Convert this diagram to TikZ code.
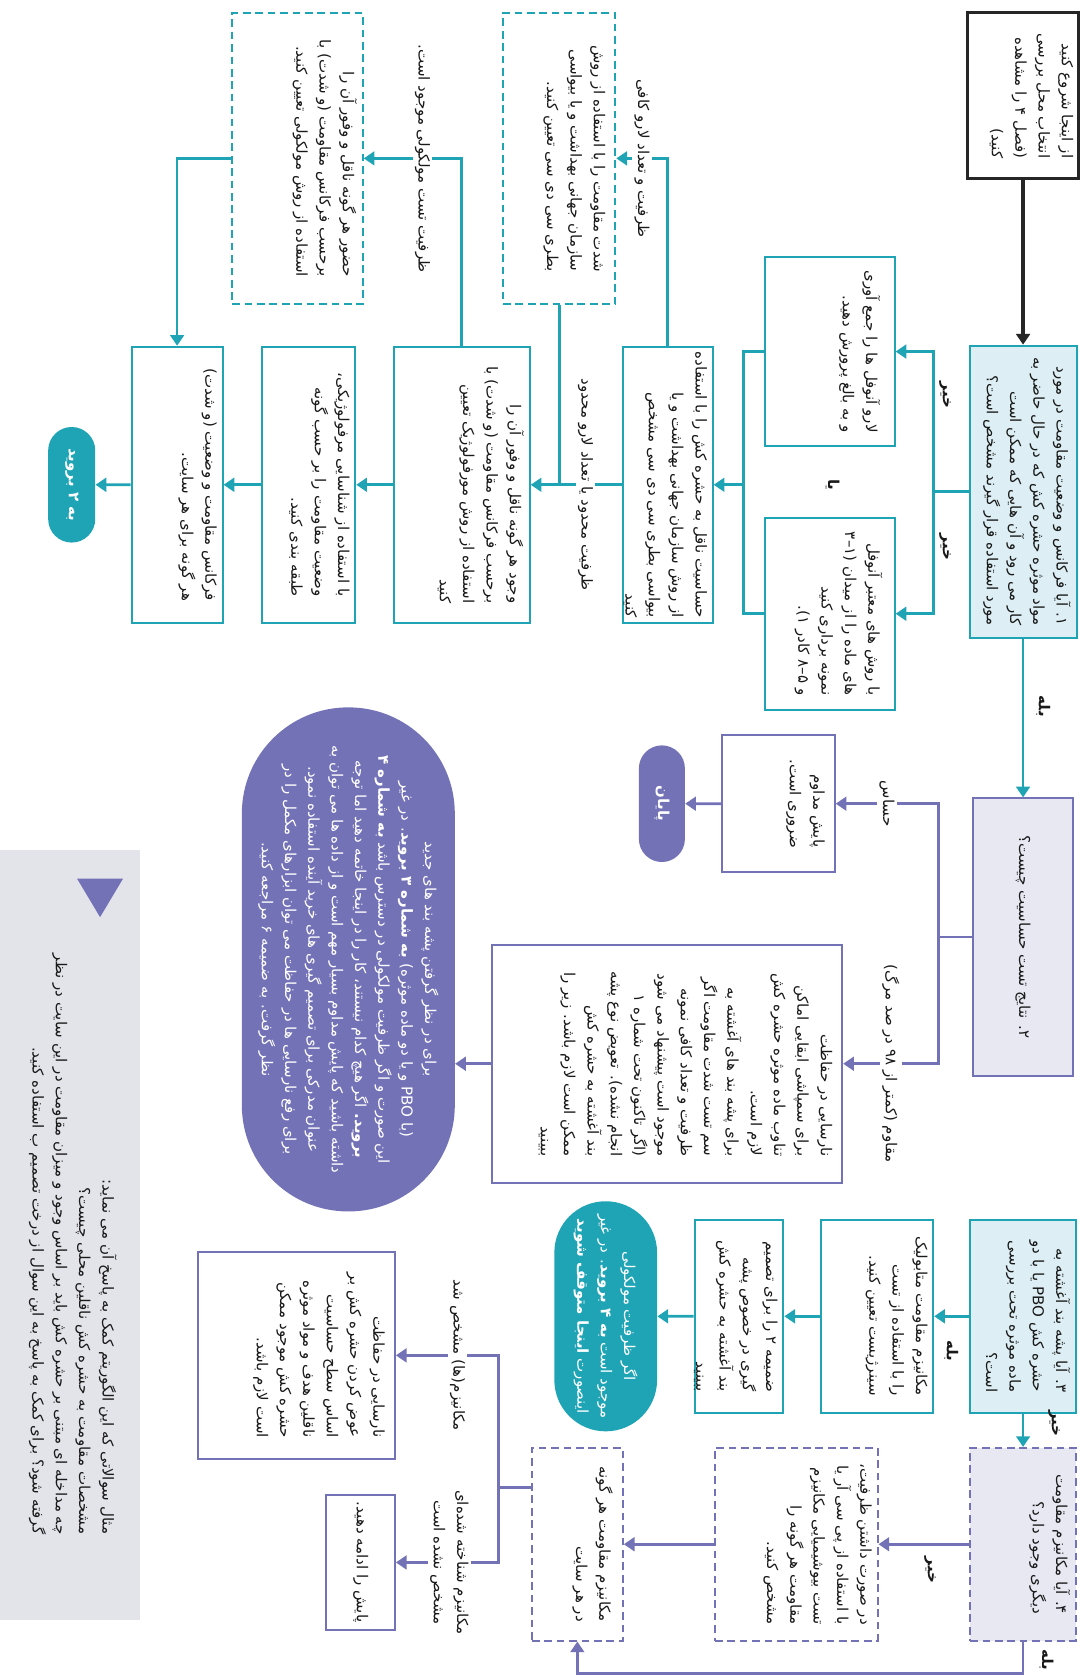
\documentclass[tikz,border=0pt]{standalone}
\usepackage{fontspec}
\newfontfamily\farsi[Script=Arabic]{DejaVu Sans}
\TeXXeTstate=1
\usetikzlibrary{arrows.meta,shapes.misc}
\definecolor{tealc}{HTML}{1FA4B6}
\definecolor{tealfill}{HTML}{DDEFF4}
\definecolor{purp}{HTML}{7472B7}
\definecolor{purpfill}{HTML}{E8E8F3}
\definecolor{lggray}{HTML}{E3E4E9}
\newcommand{\rl}[1]{\beginR#1\endR}
\newcommand{\fsz}{\fontsize{10}{15.5}\selectfont}

\begin{document}
\begin{tikzpicture}[x=0.25mm, y=-0.25mm, >={Triangle[length=2.5mm,width=3.2mm]},
    every node/.style={font=\farsi\fsz},
    boxbase/.style={draw, line width=1.3pt, fill=white, inner sep=0pt},
    tealbox/.style={boxbase, draw=tealc},
    purpbox/.style={boxbase, draw=purp},
    dashbox/.style={dash pattern=on 1.8mm off 1.1mm},
    txt/.style={rotate=-90, anchor=north, align=right, inner sep=1.5mm, text=black!90},
    pill/.style={rotate=-90, rounded rectangle, text=white, align=center, inner sep=1mm},
    lbl/.style={rotate=-90, fill=white, text=black!90, inner sep=1.5pt, align=center},
    yn/.style={rotate=-90, text=black!90, font=\farsi\fsz\bfseries},
    tline/.style={tealc, line width=1.8pt},
    pline/.style={purp, line width=1.8pt}]
\useasboundingbox (0,0) rectangle (1017,1568);

% first column
\node[boxbase, draw=black!85, line width=1.8pt, minimum width=26mm, minimum height=38.75mm] (st) at (956,89.5) {};
\node[txt] (stt) at (st.east) {\rl{از اینجا شروع کنید}\\\rl{انتخاب محل بررسی}\\\rl{(فصل ۴ را مشاهده}\\\rl{کنید)}};
\node[tealbox, fill=tealfill, minimum width=25mm, minimum height=68.25mm] (q1) at (956,459.5) {};
\node[txt] (q1t) at (q1.east) {\rl{۱. آیا فرکانس و وضعیت مقاومت در مورد}\\\rl{مواد موثره حشره کش که در حال حاضر به}\\\rl{کار می رود و آن هایی که ممکن است}\\\rl{مورد استفاده قرار گیرند مشخص است؟}};
\node[tealbox, minimum width=30.25mm, minimum height=44.25mm] (a1) at (775.5,328.5) {};
\node[txt, inner sep=3.5mm] (a1t) at (a1.east) {\rl{لارو آنوفل ها را جمع آوری}\\\rl{و به بالغ پرورش دهید.}};
\node[tealbox, minimum width=30.25mm, minimum height=44.75mm] (a2) at (775.5,573.5) {};
\node[txt, inner sep=3mm] (a2t) at (a2.east) {\rl{با روش های معتبر آنوفل}\\\rl{های ماده را از میدان (۱–۳}\\\rl{نمونه برداری کنید}\\\rl{و ۵–۸ کادر ۱).}};
\node[tealbox, minimum width=21mm, minimum height=64.5mm] (sens) at (624,453) {};
\node[txt] (senst) at (sens.east) {\rl{حساسیت ناقل به حشره کش را با استفاده}\\\rl{از روش سازمان جهانی بهداشت و یا}\\\rl{بیواسی بطری سی دی سی مشخص}\\\rl{کنید}};
\node[tealbox, dashbox, minimum width=26.25mm, minimum height=68mm] (d1) at (522.5,148) {};
\node[txt, inner sep=2.5mm] (d1t) at (d1.east) {\rl{شدت مقاومت را با استفاده از روش}\\\rl{سازمان جهانی بهداشت و یا بیواسی}\\\rl{بطری سی دی سی تعیین کنید.}};
\node[tealbox, minimum width=31.75mm, minimum height=64.5mm] (wj) at (431.5,453) {};
\node[txt] (wjt) at (wj.east) {\rl{وجود هر گونه ناقل و وفور آن را}\\\rl{برحسب فرکانس مقاومت (و شدت) با}\\\rl{استفاده از روش مورفولوژیک تعیین}\\\rl{کنید}};
\node[tealbox, dashbox, minimum width=30.5mm, minimum height=68mm] (d2) at (278,148) {};
\node[txt] (d2t) at (d2.east) {\rl{حضور هر گونه ناقل و وفور آن را}\\\rl{برحسب فرکانس مقاومت (و شدت) با}\\\rl{استفاده از روش مولکولی تعیین کنید.}};
\node[tealbox, minimum width=21.75mm, minimum height=64.5mm] (mo) at (288.5,453) {};
\node[txt] (mot) at (mo.east) {\rl{با استفاده از شناسایی مرفولوژیکی،}\\\rl{وضعیت مقاومت را بر حسب گونه}\\\rl{طبقه بندی کنید.}};
\node[tealbox, minimum width=21.25mm, minimum height=64.5mm] (fr) at (165.5,453) {};
\node[txt] (frt) at (fr.east) {\rl{فرکانس مقاومت و وضعیت (و شدت)}\\\rl{هر گونه برای هر سایت.}};
\node[pill, fill=tealc, minimum width=29mm, minimum height=11mm, font=\farsi\fsz\bfseries] (go2) at (67,453) {\rl{به ۲ بروید}};

\draw[line width=2.2pt, black!85, ->] (st) -- (q1);
\coordinate (b1) at (872,459.5);
\draw[tline] (q1) -- (b1);
\draw[tline,->] (b1) |- (a1);
\draw[tline,->] (b1) |- (a2);
\coordinate (b2) at (695,453);
\draw[tline] (a1) -| (b2);
\draw[tline] (a2) -| (b2);
\draw[tline,->] (b2) -- (sens);
\draw[tline,->] (sens.north) |- node[lbl,pos=.75]{\rl{ظرفیت و تعداد لارو کافی}} (d1);
\draw[tline,->] (sens) -- node[lbl,pos=.4]{\rl{ظرفیت محدود یا تعداد لارو محدود}} (wj);
\draw[tline] (d1) -- (d1 |- wj);
\draw[tline,->] (wj.north) |- node[lbl,pos=.7]{\rl{ظرفیت تست مولکولی موجود است.}} (d2);
\draw[tline,->] (d2) -| (fr);
\draw[tline,->] (wj) -- (mo);
\draw[tline,->] (mo) -- (fr);
\draw[tline,->] (fr) -- (go2);
\node[yn] (y1) at (883,369) {\rl{خیر}};
\node[yn] (y2) at (883,511) {\rl{خیر}};
\node[yn] (ya) at (778,453) {\rl{یا}};

% second question
\node[purpbox, fill=purpfill, minimum width=23.25mm, minimum height=64.75mm] (q2) at (956,875.5) {};
\node[txt, anchor=center] (q2t) at (q2) {\rl{۲. نتایج تست حساسیت چیست؟}};
\node[purpbox, minimum width=26.25mm, minimum height=32mm] (pm) at (727.5,751) {};
\node[txt, inner sep=2.5mm] (pmt) at (pm.east) {\rl{پایش مداوم}\\\rl{ضروری است.}};
\node[pill, fill=purp, minimum width=29.25mm, minimum height=10.75mm, font=\farsi\fsz\bfseries] (endp) at (618.5,751) {\rl{پایان}};
\node[purpbox, minimum width=81.75mm, minimum height=55.5mm] (nr) at (623.5,994) {};
\node[txt, inner sep=2.5mm] (nrt) at (nr.east) {\rl{نارسایی در حفاظت}\\\rl{برای سمپاشی ابقایی اماکن}\\\rl{تناوب ماده موثره حشره کش}\\\rl{لازم است.}\\\rl{برای پشه بند های آغشته به}\\\rl{سم تست شدت مقاومت اگر}\\\rl{ظرفیت و تعداد کافی نمونه}\\\rl{موجود است پیشنهاد می شود}\\\rl{(اگر تاکنون تحت شماره ۱}\\\rl{انجام نشده). تعویض نوع پشه}\\\rl{بند آغشته به حشره کش}\\\rl{ممکن است لازم باشد. زیر را}\\\rl{ببینید}};
\node[pill, rectangle, rounded corners=24.8mm, fill=purp, minimum width=117.75mm, minimum height=49.75mm] (ell) at (325.5,896.5) {\rl{برای در نظر گرفتن پشه بند های جدید}\\\rl{(با PBO و یا دو ماده موثره) {\bfseries به شماره ۳ بروید}. در غیر}\\\rl{این صورت و اگر ظرفیت مولکولی در دسترس باشد {\bfseries به شماره ۴}}\\\rl{{\bfseries بروید.} اگر هیچ کدام نیستند، کار را در اینجا خاتمه دهید اما توجه}\\\rl{داشته باشید که پایش مداوم بسیار مهم است و از داده ها می توان به}\\\rl{عنوان مدرکی برای تصمیم گیری های خرید آینده استفاده نمود.}\\\rl{برای رفع نارسایی ها در حفاظت می توان ابزارهای مکمل را در}\\\rl{نظر گرفت. به ضمیمه ۶ مراجعه کنید.}};

\draw[tline,->] (q1) -- (q2);
\node[yn] (y3) at (975,660) {\rl{بله}};
\coordinate (b3) at (877,875.5);
\draw[pline] (q2) -- (b3);
\draw[pline,->] (b3) |- node[lbl,pos=.75]{\rl{حساس}} (pm);
\draw[pline,->] (b3) |- node[lbl,pos=.75]{\rl{مقاوم (کمتر از ۹۸ در صد مرگ)}} (nr);
\draw[pline,->] (pm) -- (endp);
\draw[pline,->] (nr) -- (nr -| ell.north);

% third and fourth questions
\node[tealbox, fill=tealfill, minimum width=24.75mm, minimum height=45mm] (q3) at (956,1230) {};
\node[txt] (q3t) at (q3.east) {\rl{۳. آیا پشه بند آغشته به}\\\rl{حشره کش PBO یا با دو}\\\rl{ماده موثره تحت بررسی}\\\rl{است؟}};
\node[tealbox, minimum width=26.25mm, minimum height=45mm] (m1) at (819.5,1230) {};
\node[txt] (m1t) at (m1.east) {\rl{مکانیزم مقاومت متابولیک}\\\rl{را با استفاده از تست}\\\rl{سینرژیست تعیین کنید.}};
\node[tealbox, minimum width=20.75mm, minimum height=45mm] (m2) at (690.5,1230) {};
\node[txt] (m2t) at (m2.east) {\rl{ضمیمه ۲ را برای تصمیم}\\\rl{گیری در خصوص پشه}\\\rl{بند آغشته به حشره کش}\\\rl{ببینید}};
\node[pill, fill=tealc, minimum width=55.75mm, minimum height=24mm] (tp) at (566,1230) {\rl{اگر ظرفیت مولکولی}\\\rl{موجود است {\bfseries به ۴ بروید}. در غیر}\\\rl{اینصورت {\bfseries اینجا متوقف شوید}}};
\node[purpbox, dashbox, fill=purpfill, minimum width=24.75mm, minimum height=45mm] (q4) at (956,1443) {};
\node[txt] (q4t) at (q4.east) {\rl{۴. آیا مکانیزم مقاومت}\\\rl{دیگری وجود دارد؟}};
\node[purpbox, dashbox, minimum width=38mm, minimum height=45mm] (d3) at (744,1443) {};
\node[txt] (d3t) at (d3.east) {\rl{در صورت داشتن ظرفیت،}\\\rl{با استفاده از پی سی آر یا}\\\rl{تست بیوشیمیایی مکانیزم}\\\rl{مقاومت هر گونه را}\\\rl{مشخص کنید.}};
\node[purpbox, dashbox, minimum width=21.25mm, minimum height=45mm] (d4) at (539.5,1443) {};
\node[txt, inner sep=2.5mm] (d4t) at (d4.east) {\rl{مکانیزم مقاومت هر گونه}\\\rl{در هر سایت}};
\node[purpbox, minimum width=46mm, minimum height=48.25mm] (n1) at (277,1266.5) {};
\node[txt, inner sep=2.5mm] (n1t) at (n1.east) {\rl{نارسایی در حفاظت}\\\rl{عوض کردن حشره کش بر}\\\rl{اساس سطح حساسیت}\\\rl{ناقلین هدف و مواد موثره}\\\rl{حشره کش موجود ممکن}\\\rl{است لازم باشد.}};
\node[purpbox, minimum width=16mm, minimum height=31.5mm] (n2) at (337,1460) {};
\node[txt, anchor=center] (n2t) at (n2) {\rl{پایش را ادامه دهید.}};

\draw[tline,->] (q3) -- (m1);
\draw[tline,->] (m1) -- (m2);
\draw[tline,->] (m2) -- (tp);
\draw[tline,->] (q3) -- (q4);
\draw[pline,->] (q4) -- (d3);
\draw[pline,->] (d3) -- (d4);
\coordinate (c1) at (956,1564);
\draw[pline,->] (q4) -- (c1) -| (d4);
\coordinate (b4) at (466,1390);
\draw[pline] (b4) -- (b4 -| d4.west);
\draw[pline,->] (b4) |- node[lbl,pos=.7]{\rl{مکانیزم(ها) مشخص شد}} (n1);
\draw[pline,->] (b4) |- node[lbl,pos=.74]{\rl{مکانیزم شناخته شده‌ای}\\\rl{مشخص نشده است}} (n2);
\node[yn] (y4) at (889,1262) {\rl{بله}};
\node[yn] (y5) at (985,1330) {\rl{خیر}};
\node[yn] (y6) at (869,1467) {\rl{خیر}};
\node[yn] (y7) at (978,1551) {\rl{بله}};

% legend
\fill[lggray] (0,794) rectangle (131,1514);
\fill[purp] (72,821) -- (115,821) -- (93.5,857) -- cycle;
\node[txt, anchor=east] (lgt) at (68,1440) {\rl{مثال سوالاتی که این الگوریتم کمک به پاسخ آن می نماید:}\\\rl{مشخصات مقاومت به حشره کش ناقلین محلی چیست؟}\\\rl{چه مداخله ای مبتنی بر حشره کش باید بر اساس وجود و میزان مقاومت در این سایت در نظر}\\\rl{گرفته شود؟ برای کمک به پاسخ به این سوال از درخت تصمیم ب استفاده کنید.}};
\end{tikzpicture}
\end{document}
